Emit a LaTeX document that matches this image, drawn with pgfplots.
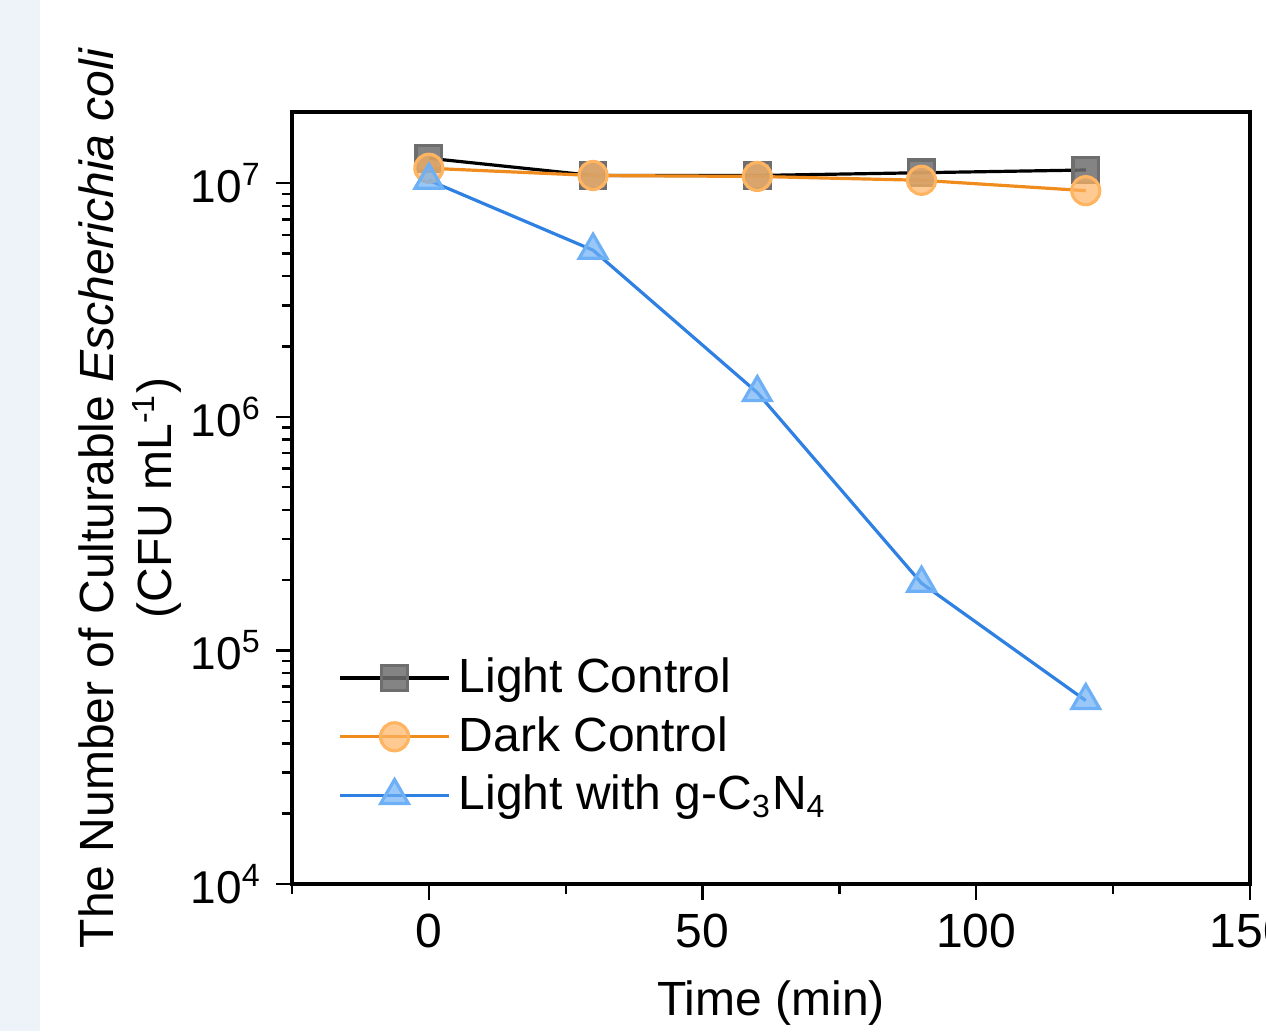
\documentclass[border=0pt]{standalone}
\usepackage{pgfplots}
\pgfplotsset{compat=1.18}
\usepackage{fontspec}
\setmainfont{Liberation Sans}
\definecolor{bgblue}{HTML}{EEF3FA}
\definecolor{sqfill}{HTML}{6E6E6E}
\definecolor{orline}{HTML}{F08C1E}
\definecolor{orfill}{HTML}{FFB462}
\definecolor{blline}{HTML}{2E80E2}
\definecolor{blfill}{HTML}{6EB0F5}
\begin{document}
\begin{tikzpicture}
\useasboundingbox (-73pt,-36.75pt) rectangle (243.5pt,221pt);
\fill[bgblue] (-73pt,-36.75pt) rectangle (-63pt,221pt);
\begin{axis}[
  scale only axis, width=239.5pt, height=193pt,
  ymode=log, xmin=-25, xmax=150, ymin=1e4, ymax=2.02e7,
  xtick={0,50,100,150}, minor xtick={-25,25,75,125},
  ytick={1e4,1e5,1e6,1e7},
  yticklabels={10\textsuperscript{4},10\textsuperscript{5},10\textsuperscript{6},10\textsuperscript{7}},
  yticklabel style={font=\fontsize{11.5}{14}\selectfont},
  tick align=outside, xtick pos=bottom, ytick pos=left,
  major tick length=4pt, minor tick length=2.5pt,
  axis line style={line width=1pt},
  every tick/.style={black, line width=0.6pt},
  font=\fontsize{12}{14.5}\selectfont,
  /pgf/number format/assume math mode=true,
  xlabel={Time (min)},
  xlabel style={at={(axis description cs:0.5,-0.154)}, anchor=center},
  ylabel={The Number of Culturable \textit{Escherichia coli}\\(CFU mL\textsuperscript{-1})},
  ylabel style={at={(axis description cs:-0.169,0.5)}, anchor=center, align=center},
  legend style={draw=none, fill=none, at={(axis description cs:0.035,0.315)}, anchor=north west, row sep=0.5pt,
    font=\fontsize{12}{14}\selectfont},
  legend cell align=left,
  legend image code/.code={\draw[mark repeat=2,mark phase=2] plot coordinates {(0cm,0cm)(0.48cm,0cm)(0.96cm,0cm)};},
]
\addplot[black, line width=0.8pt, mark=square*, mark size=3.2pt,
  mark options={fill=sqfill, draw=sqfill, fill opacity=0.85, solid}]
  coordinates {(0,1.28e7) (30,1.08e7) (60,1.08e7) (90,1.11e7) (120,1.14e7)};
\addlegendentry{Light Control}
\addplot[orline, line width=0.8pt, mark=*, mark size=3.5pt,
  mark options={fill=orfill, draw=orfill, fill opacity=0.7, solid}]
  coordinates {(0,1.16e7) (30,1.08e7) (60,1.07e7) (90,1.03e7) (120,0.93e7)};
\addlegendentry{Dark Control}
\addplot[blline, line width=0.8pt, mark=triangle*, mark size=4pt,
  mark options={fill=blfill, draw=blfill, fill opacity=0.7, solid}]
  coordinates {(0,1.03e7) (30,5.17e6) (60,1.27e6) (90,1.94e5) (120,6.1e4)};
\addlegendentry{Light with g-C\textsubscript{3}N\textsubscript{4}}
\end{axis}
\end{tikzpicture}
\end{document}
